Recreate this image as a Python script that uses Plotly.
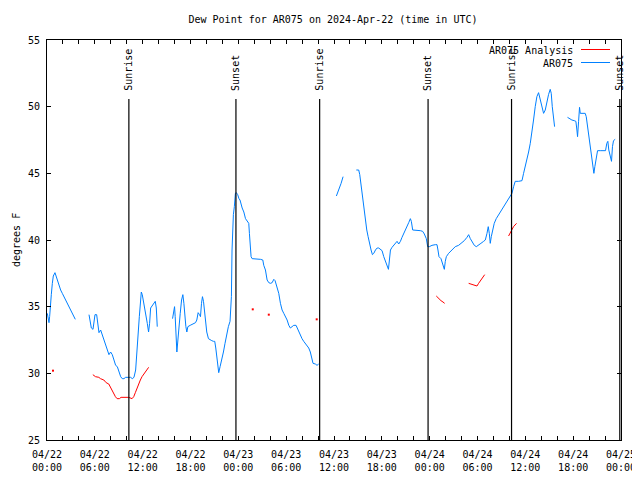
import plotly.graph_objects as go

# ---------------- data ----------------
title_text = "Dew Point for AR075 on 2024-Apr-22 (time in UTC)"
y_label = "degrees F"

# hours since 2024-04-22 00:00 UTC ; None marks a gap
blue_hours = [
    0.04, 0.13, 0.25, 0.33, 0.46, 0.54, 0.67, 0.79, 1.0, 1.13, 1.29, 1.5, 1.71, 1.92, 2.13,
    2.34, 2.55, 2.76, 2.97, 3.17, 3.38, 3.55, None,
    5.27, 5.39, 5.56, 5.77, 5.89, 6.02, 6.23, 6.39, 6.52, 6.73, 6.94, 7.15, 7.36, 7.56, 7.77,
    7.98, 8.19, 8.40, 8.61, 8.82, 9.03, 9.24, 9.44, 9.65, 9.86, 10.07, 10.28, 10.49, 10.70,
    10.91, 11.12, 11.24, 11.32, 11.45, 11.58, 11.70, 11.83, 11.95, 12.08, 12.24, 12.41, 12.58,
    12.74, 12.87, 13.0, 13.2, 13.41, 13.58, 13.71, 13.83, None,
    15.75, 15.88, 16.0, 16.08, 16.2, 16.29, 16.42, 16.54, 16.71, 16.88, 17.04, 17.17, 17.29,
    17.42, 17.54, 17.67, 17.96, 18.29, 18.63, 18.79, 18.96, 19.13, 19.25, 19.38, 19.5, 19.63,
    19.75, 19.88, 20.04, 20.25, 20.46, 20.67, 20.88, 21.04, 21.17, 21.29, 21.42, 21.54, 21.71,
    21.92, 22.13, 22.33, 22.54, 22.75, 22.96, 23.04, 23.13, 23.21, 23.29, 23.38, 23.5, 23.63,
    23.75, 23.92, 24.08, 24.21, 24.48, 24.69, 24.9, 25.1, 25.31, 25.39, 25.52, 25.6, 25.73,
    26.15, 26.78, 27.07, 27.19, 27.4, 27.61, 27.82, 28.03, 28.24, 28.45, 28.61, 28.86, 29.07,
    29.28, 29.49, 29.7, 29.91, 30.12, 30.33, 30.53, 30.74, 30.95, 31.24, 31.37, 31.58, 31.79,
    31.99, 32.2, 32.41, 32.62, 32.83, 33.03, 33.24, 33.37, 33.66, 33.87, 34.08, None,
    36.3, 36.6, 36.89, 37.14, None,
    38.8, 39.1, 39.23, 39.4, 39.57, 39.73, 39.94, 40.11, 40.28, 40.44, 40.65, 40.82, 40.99,
    41.2, 41.41, 41.61, 41.82, 42.03, 42.24, 42.45, 42.66, 42.83, 42.95, 43.08, 43.28, 43.49,
    43.7, 43.91, 44.12, 44.33, 44.53, 44.74, 44.95, 45.16, 45.37, 45.58, 45.7, 45.87, 46.2,
    46.83, 47.12, 47.33, 47.58, 47.75, 47.96, 48.29, 48.71, 48.92, 49.04, 49.17, 49.42, 49.59,
    49.84, 49.96, 50.09, 50.38, 50.8, 51.21, 51.63, 52.05, 52.34, 52.68, 52.89, 53.1, 53.31,
    53.6, 53.85, 54.14, 54.43, 54.77, 54.98, 55.19, 55.35, 55.48, 55.6, 55.73, 55.94, 56.1,
    56.35, 56.65, 56.94, 57.27, 57.69, 58.1, 58.32, 58.53, 58.73, 59.15, 59.58, 59.78, 60.0,
    60.2, 60.41, 60.62, 60.83, 61.03, 61.24, 61.45, 61.66, 61.87, 62.08, 62.29, 62.5, 62.71,
    62.91, 63.12, 63.25, 63.38, 63.55, 63.67, None,
    65.29, 65.54, 65.84, 66.13, 66.34, 66.47, 66.55, 66.68, 66.8, 66.89, 67.05, 67.22, 67.51,
    67.64, 67.81, 67.97, 68.14, 68.31, 68.47, 68.6, 68.72, 68.89, 69.06, 69.39, 69.81, 70.06,
    70.22, 70.35, 70.47, 70.64, 70.81, 70.93, 71.06, 71.27,
]
blue_values = [
    34.5, 34.25, 33.8, 34.25, 35.0, 35.9, 36.75, 37.3, 37.55, 37.3, 36.9, 36.5, 36.25, 36.0, 35.75,
    35.5, 35.25, 35.0, 34.75, 34.5, 34.25, 34.05, None,
    34.4, 34.0, 33.4, 33.3, 33.75, 34.4, 34.4, 33.5, 33.05, 33.25, 32.9, 32.5, 32.1, 31.75, 31.4,
    31.6, 31.4, 31.0, 30.6, 30.5, 30.1, 29.75, 29.6, 29.6, 29.7, 29.7, 29.7, 29.7, 29.6,
    29.7, 30.25, 31.1, 32.1, 33.1, 34.25, 35.5, 36.1, 35.9, 35.5, 34.9, 34.25, 33.75,
    33.1, 33.75, 34.9, 35.1, 35.3, 35.4, 34.9, 33.5, None,
    34.1, 34.6, 35.0, 34.25, 32.5, 31.6, 32.5, 33.5, 34.5, 35.5, 35.9, 35.25, 34.25,
    33.5, 33.1, 33.5, 33.6, 33.7, 33.8, 34.0, 34.55, 34.4, 34.25, 35.25, 35.75, 35.4,
    34.75, 34.0, 33.1, 32.6, 32.5, 32.45, 32.4, 32.4, 31.9, 31.25, 30.6, 30.05, 30.5,
    31.0, 31.6, 32.25, 32.9, 33.5, 33.9, 34.5, 35.75, 39.25, 41.25, 41.9, 42.5, 43.5,
    43.55, 43.4, 43.1, 43.0, 42.4, 42.1, 41.6, 41.4, 41.25, 40.5, 39.4, 38.75, 38.6,
    38.6, 38.55, 38.5, 38.1, 37.75, 37.0, 36.8, 36.75, 36.8, 37.05, 36.95, 36.5, 36.0,
    35.25, 34.75, 34.5, 34.25, 34.0, 33.6, 33.4, 33.5, 33.6, 33.6, 33.4, 33.1, 32.9,
    32.6, 32.4, 32.25, 32.1, 31.9, 31.6, 30.9, 30.75, 30.7, 30.6, 30.7, None,
    43.3, 43.75, 44.25, 44.75, None,
    45.25, 45.25, 44.9, 44.0, 43.25, 42.6, 41.5, 40.75, 40.25, 39.75, 39.25, 38.9, 39.0,
    39.25, 39.4, 39.4, 39.3, 39.2, 38.75, 38.4, 38.05, 37.8, 38.5, 39.25, 39.45, 39.6,
    39.8, 39.9, 39.7, 39.9, 40.2, 40.45, 40.7, 41.0, 41.3, 41.6, 41.4, 40.75, 40.75,
    40.7, 40.65, 40.45, 40.1, 39.5, 39.5, 39.6, 39.65, 39.65, 39.25, 38.75, 38.6, 38.25,
    37.8, 38.4, 38.75, 39.0, 39.25, 39.5, 39.6, 39.8, 39.95, 40.2, 40.4, 40.1, 39.9,
    39.6, 39.5, 39.6, 39.75, 39.9, 40.0, 40.5, 41.0, 40.5, 39.75, 40.25, 41.0, 41.25,
    41.6, 41.9, 42.15, 42.45, 42.9, 43.25, 43.5, 44.0, 44.4, 44.4, 44.45, 45.0, 45.5,
    46.0, 46.6, 47.25, 48.0, 49.0, 50.0, 50.75, 51.05, 50.5, 50.0, 49.5, 49.75, 50.4,
    50.9, 51.3, 51.0, 50.0, 49.0, 48.5, None,
    49.2, 49.1, 49.0, 48.95, 48.9, 48.25, 47.75, 48.9, 49.95, 49.5, 49.5, 49.45, 49.5,
    49.25, 48.5, 47.75, 47.0, 46.25, 45.5, 45.0, 45.5, 46.0, 46.7, 46.7, 46.7, 46.7,
    47.25, 47.4, 46.75, 46.4, 45.9, 47.0, 47.45, 47.55,
]

red_hours = [
    0.75, None,
    5.75, 6.08, 6.5, 6.71, 7.13, 7.42, 7.75, 7.96, 8.17, 8.38, 8.58, 8.79, 9.08, 9.29, 9.83,
    10.25, 10.67, 10.88, 11.08, 11.29, 11.5, 11.71, 11.92, 12.13, 12.38, 12.54, 12.75, None,
    25.81, None, 27.82, None, 33.83, None,
    48.83, 49.13, 49.42, 49.67, 49.88, None,
    52.89, 53.18, 53.43, 53.72, 53.93, 54.14, 54.35, 54.56, 54.77, 54.9, None,
    57.9, 58.19, 58.52, 58.9,
]
red_values = [
    30.2, None,
    29.9, 29.75, 29.7, 29.6, 29.5, 29.3, 29.2, 28.95, 28.7, 28.5, 28.25, 28.1, 28.1, 28.2, 28.2,
    28.2, 28.1, 28.25, 28.55, 28.9, 29.2, 29.5, 29.75, 29.95, 30.1, 30.25, 30.45, None,
    34.8, None, 34.4, None, 34.05, None,
    35.8, 35.6, 35.45, 35.35, 35.25, None,
    36.75, 36.7, 36.6, 36.6, 36.55, 36.75, 36.95, 37.1, 37.3, 37.4, None,
    40.3, 40.6, 41.0, 41.25,
]

sun_hours = [10.27, 23.7, 34.2, 47.8, 58.27, 71.85]
sun_labels = ["Sunrise", "Sunset", "Sunrise", "Sunset", "Sunrise", "Sunset"]

x_tick_hours = [0, 6, 12, 18, 24, 30, 36, 42, 48, 54, 60, 66, 72]
x_tick_labels = [
    "04/22<br>00:00", "04/22<br>06:00", "04/22<br>12:00", "04/22<br>18:00",
    "04/23<br>00:00", "04/23<br>06:00", "04/23<br>12:00", "04/23<br>18:00",
    "04/24<br>00:00", "04/24<br>06:00", "04/24<br>12:00", "04/24<br>18:00",
    "04/25<br>00:00",
]
y_ticks = [25, 30, 35, 40, 45, 50, 55]

series_names = ["AR075 Analysis", "AR075"]
series_colors = ["#ff0000", "#0080ff"]

# ---------------- layout geometry ----------------
FONT = "DejaVu Sans Mono"
FS = 10
OFF = 8                      # page body margin of the html page
W, H = 640 - OFF, 480 - OFF  # figure size so it fits the 640x480 window
ML, MT = 39, 32
PW, PH = 574, 400
MR, MB = W - ML - PW, H - MT - PH


def px(page_x):
    """page pixel x -> paper x"""
    return (page_x - OFF - ML) / PW


def py(page_y):
    """page pixel y -> paper y"""
    return (MT + PH - (page_y - OFF)) / PH


fig = go.Figure()

fig.add_trace(go.Scatter(x=blue_hours, y=blue_values, mode="lines",
                         line=dict(color=series_colors[1], width=1),
                         connectgaps=False, showlegend=False, hoverinfo="skip"))
fig.add_trace(go.Scatter(x=red_hours, y=red_values, mode="lines",
                         line=dict(color=series_colors[0], width=1),
                         connectgaps=False, showlegend=False, hoverinfo="skip"))

# isolated red observations (no neighbour to draw a line to)
iso_x, iso_y = [], []
for i, (h, v) in enumerate(zip(red_hours, red_values)):
    if h is None:
        continue
    prev_none = i == 0 or red_hours[i - 1] is None
    next_none = i == len(red_hours) - 1 or red_hours[i + 1] is None
    if prev_none and next_none:
        iso_x.append(h)
        iso_y.append(v)
fig.add_trace(go.Scatter(x=iso_x, y=iso_y, mode="markers",
                         marker=dict(color=series_colors[0], size=2, symbol="square",
                                     line=dict(width=0)),
                         showlegend=False, hoverinfo="skip"))

shapes = []
annotations = []
for h, lab in zip(sun_hours, sun_labels):
    shapes.append(dict(type="line", xref="x", yref="paper", x0=h, x1=h,
                       y0=0, y1=py(99), line=dict(color="black", width=1.2)))
    annotations.append(dict(x=h, y=py(93), xref="x", yref="paper",
                            text=lab, textangle=-90, showarrow=False,
                            xanchor="center", yanchor="bottom",
                            font=dict(family=FONT, size=FS, color="black")))

# manual legend (text on the left, sample line on the right)
leg_rows = [50, 63]
for name, col, ypx in zip(series_names, series_colors, leg_rows):
    annotations.append(dict(x=px(575), y=py(ypx), xref="paper", yref="paper",
                            text=name, showarrow=False, xanchor="right", yanchor="middle",
                            font=dict(family=FONT, size=FS, color="black")))
    shapes.append(dict(type="line", xref="paper", yref="paper",
                       x0=px(581), x1=px(610), y0=py(ypx - 0.5), y1=py(ypx - 0.5),
                       line=dict(color=col, width=1)))

# y axis title
annotations.append(dict(x=px(16), y=py(240), xref="paper", yref="paper",
                        text=y_label, textangle=-90, showarrow=False,
                        xanchor="center", yanchor="middle",
                        font=dict(family=FONT, size=FS, color="black")))

fig.update_layout(
    width=W, height=H,
    margin=dict(l=ML, r=MR, t=MT, b=MB, pad=0, autoexpand=False),
    paper_bgcolor="white", plot_bgcolor="white",
    title=dict(text=title_text, x=px(333), xref="paper", xanchor="center",
               y=1 - (19 - OFF) / H, yref="container", yanchor="middle",
               font=dict(family=FONT, size=FS, color="black")),
    shapes=shapes, annotations=annotations,
    showlegend=False,
    font=dict(family=FONT, size=FS, color="black"),
)
fig.update_xaxes(range=[0, 72], tickmode="array", tickvals=x_tick_hours,
                 ticktext=x_tick_labels, ticks="inside", ticklen=4, tickwidth=1,
                 tickcolor="black", showgrid=False, zeroline=False, automargin=False,
                 showline=True, linecolor="black", linewidth=1, mirror="ticks",
                 ticklabelstandoff=5,
                 minor=dict(dtick=2, tick0=0, ticks="inside", ticklen=4, tickwidth=1,
                            tickcolor="black", showgrid=False),
                 tickfont=dict(family=FONT, size=FS, color="black"))
fig.update_yaxes(range=[25, 55], tickmode="array", tickvals=y_ticks,
                 ticks="inside", ticklen=4, tickwidth=1, tickcolor="black",
                 showgrid=False, zeroline=False, showline=True, linecolor="black",
                 linewidth=1, mirror="ticks", automargin=False, ticklabelstandoff=4,
                 tickfont=dict(family=FONT, size=FS, color="black"))

fig.write_html("out.html")
